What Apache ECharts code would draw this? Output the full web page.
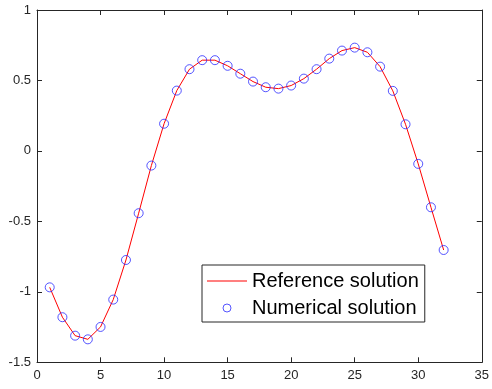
<!DOCTYPE html>
<html>
<head>
<meta charset="utf-8">
<script src="https://cdn.jsdelivr.net/npm/echarts@6/dist/echarts.min.js"></script>
<style>html,body{margin:0;padding:0;background:#fff}#c{width:492px;height:389px}</style>
</head>
<body>
<div id="c"></div>
<script>
var xValues = [1,2,3,4,5,6,7,8,9,10,11,12,13,14,15,16,17,18,19,20,21,22,23,24,25,26,27,28,29,30,31,32];
var referenceValues = [-0.968,-1.18,-1.311,-1.337,-1.249,-1.055,-0.774,-0.442,-0.104,0.193,0.428,0.58,0.644,0.644,0.604,0.548,0.492,0.452,0.442,0.464,0.513,0.58,0.655,0.712,0.733,0.70,0.598,0.426,0.189,-0.092,-0.40,-0.703];
var numericalValues = [-0.968,-1.18,-1.311,-1.337,-1.249,-1.055,-0.774,-0.442,-0.104,0.193,0.428,0.58,0.644,0.644,0.604,0.548,0.492,0.452,0.442,0.464,0.513,0.58,0.655,0.712,0.733,0.70,0.598,0.426,0.189,-0.092,-0.40,-0.703];
var seriesNames = ['Reference solution', 'Numerical solution'];

var axisColor = '#262626';
var blue = '#2a2aff';
var font = 'Liberation Sans, Arial, sans-serif';
function pairs(xs, ys){ return xs.map(function(x,i){ return [x, ys[i]]; }); }

var chart = echarts.init(document.getElementById('c'), null, {renderer:'canvas'});
var baseX = {
  type:'value', min:0, max:35, interval:5,
  axisLine:{show:true, onZero:false, lineStyle:{color:axisColor, width:1}},
  axisTick:{show:true, inside:true, length:5, lineStyle:{color:axisColor}},
  splitLine:{show:false}
};
var baseY = {
  type:'value', min:-1.5, max:1, interval:0.5,
  axisLine:{show:true, onZero:false, lineStyle:{color:axisColor, width:1}},
  axisTick:{show:true, inside:true, length:5, lineStyle:{color:axisColor}},
  splitLine:{show:false}
};
chart.setOption({
  animation:false,
  backgroundColor:'#fff',
  grid:{left:37, right:8.5, top:10, bottom:26.7, containLabel:false},
  xAxis:[
    Object.assign({}, baseX, {position:'bottom', axisLabel:{show:true, color:axisColor, fontSize:13, fontFamily:font, margin:7}}),
    Object.assign({}, baseX, {position:'top', axisLabel:{show:false}})
  ],
  yAxis:[
    Object.assign({}, baseY, {position:'left', axisLabel:{show:true, color:axisColor, fontSize:13, fontFamily:font, margin:6, padding:[4,0,0,0],
      formatter:function(v){ return String(v); }}}),
    Object.assign({}, baseY, {position:'right', axisLabel:{show:false}})
  ],
  legend:{
    orient:'vertical', left:202, top:265,
    padding:[6,6,4,5], itemGap:7, itemWidth:40, itemHeight:8, itemTextGap:5,
    borderColor:axisColor, borderWidth:1, backgroundColor:'#fff',
    textStyle:{color:'#000', fontSize:20, fontFamily:font, lineHeight:20},
    data:[
      {name:seriesNames[0], icon:'path://M0,0 L40,0 L40,1 L0,1 Z', itemStyle:{color:'#ff0000', borderWidth:0}},
      {name:seriesNames[1], icon:'circle', itemStyle:{color:'rgba(0,0,0,0)', borderColor:blue, borderWidth:1}}
    ]
  },
  series:[
    {
      name:seriesNames[0], type:'line', data:pairs(xValues, referenceValues),
      symbol:'none', smooth:false,
      lineStyle:{color:'#ff0000', width:1},
      itemStyle:{color:'#ff0000'}, z:2
    },
    {
      name:seriesNames[1], type:'scatter', data:pairs(xValues, numericalValues),
      symbol:'circle', symbolSize:9,
      itemStyle:{color:'rgba(0,0,0,0)', borderColor:blue, borderWidth:1}, z:3
    }
  ]
});
</script>
</body>
</html>
